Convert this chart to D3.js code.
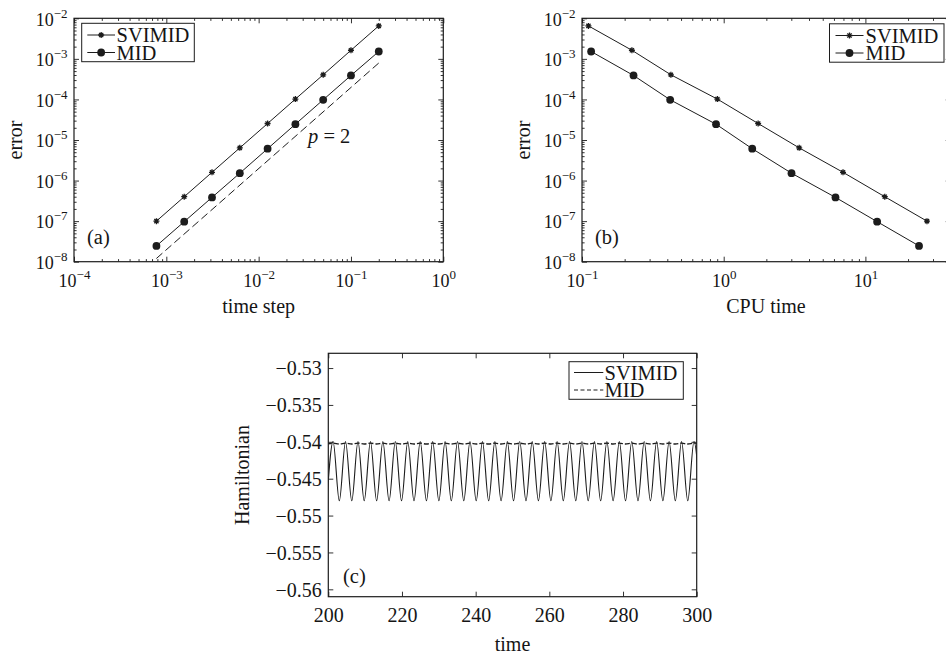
<!DOCTYPE html>
<html>
<head>
<meta charset="utf-8">
<script src="https://cdn.jsdelivr.net/npm/d3@7"></script>
<style>
  body { margin: 0; background: #fff; }
  svg { display: block; }
  text { font-family: "Liberation Serif", "Times New Roman", serif; fill: #151515; }
</style>
</head>
<body>
<svg id="fig" width="946" height="656"></svg>
<script>
// ---- convergence data: step sizes, errors and CPU times ----
const stepSize  = [0.2, 0.1, 0.05, 0.025, 0.0125, 0.00625, 0.003125, 0.0015625, 0.00078125];
const errSVIMID = [6.5e-3, 1.63e-3, 4.05e-4, 1.02e-4, 2.55e-5, 6.4e-6, 1.6e-6, 4.0e-7, 1.0e-7];
const errMID    = [1.52e-3, 3.9e-4, 9.8e-5, 2.45e-5, 6.1e-6, 1.52e-6, 3.85e-7, 9.7e-8, 2.45e-8];
const cpuSVIMID = [0.111, 0.225, 0.424, 0.902, 1.75, 3.41, 6.95, 13.7, 27.2];
const cpuMID    = [0.116, 0.231, 0.419, 0.883, 1.59, 3.01, 6.15, 12.1, 23.9];
// order-2 reference line
const refStep = [7.8e-4, 0.2];
const refErr  = [1.2e-8, 7.9e-4];

// ---- Hamiltonian over time: extrema of the oscillation ----
const hamPeakT = [201.30, 204.68, 208.06, 211.44, 214.81, 218.19, 221.57, 224.95, 228.33, 231.70,
                  235.08, 238.46, 241.84, 245.22, 248.59, 251.97, 255.35, 258.73, 262.11, 265.48,
                  268.86, 272.24, 275.62, 279.00, 282.37, 285.75, 289.13, 292.51, 295.89, 299.26];
const hamTroughT = [199.61, 202.99, 206.37, 209.75, 213.12, 216.50, 219.88, 223.26, 226.64, 230.01,
                    233.39, 236.77, 240.15, 243.53, 246.90, 250.28, 253.66, 257.04, 260.42, 263.79,
                    267.17, 270.55, 273.93, 277.31, 280.68, 284.06, 287.44, 290.82, 294.20, 297.57, 300.95];
const svimidPeakH = -0.53995, svimidTroughH = -0.5480;
const midPeakH = -0.54018, midTroughH = -0.54030;

// ---- tick values ----
const expA_x = [-4, -3, -2, -1, 0];
const expErr = [-8, -7, -6, -5, -4, -3, -2];
const expB_x = [-1, 0, 1];
const timeTicks = [200, 220, 240, 260, 280, 300];
const hamTicks = [-0.53, -0.535, -0.54, -0.545, -0.55, -0.555, -0.56];

const ink = "#1c1c1c";
const svg = d3.select("#fig");
svg.append("rect").attr("width", 946).attr("height", 656).attr("fill", "#fff");

const pow10 = e => Math.pow(10, e);
const isDecade = v => Math.abs(Math.log10(v) - Math.round(Math.log10(v))) < 1e-9;

function styleAxis(g) {
  g.attr("font-family", null).attr("font-size", null).style("color", ink);
  g.select(".domain").remove();
  g.selectAll(".tick line").attr("stroke-width", 0.9);
}

function logText(sel) {
  sel.each(function (d) {
    const e = Math.round(Math.log10(d));
    const t = d3.select(this);
    t.text(null);
    t.append("tspan").text("10");
    t.append("tspan").attr("dy", -8).attr("font-size", 13).text(e < 0 ? "\u2212" + (-e) : String(e));
  });
}

// Frame with inward ticks on all four sides.
function frame(g, x, y, o) {
  const [xl, xr] = x.range();
  const [yb, yt] = y.range();
  const major = 5, minor = 2.6;
  const sides = [
    [d3.axisBottom, `translate(0,${yb})`, x, o.xMajor, o.xMinor],
    [d3.axisTop, `translate(0,${yt})`, x, o.xMajor, o.xMinor],
    [d3.axisLeft, `translate(${xl},0)`, y, o.yMajor, o.yMinor],
    [d3.axisRight, `translate(${xr},0)`, y, o.yMajor, o.yMinor]
  ];
  const out = [];
  sides.forEach(([ax, tr, sc, maj, mnr], i) => {
    if (mnr && mnr.length) {
      g.append("g").attr("transform", tr)
        .call(ax(sc).tickValues(mnr).tickSizeInner(-minor).tickSizeOuter(0).tickFormat(() => ""))
        .call(styleAxis);
    }
    const a = g.append("g").attr("transform", tr)
      .call(ax(sc).tickValues(maj).tickSizeInner(-major).tickSizeOuter(0)
        .tickFormat(i < 1 || i === 2 ? o.fmt : () => ""))
      .call(styleAxis);
    out.push(a);
  });
  g.append("rect").attr("x", xl).attr("y", yt).attr("width", xr - xl).attr("height", yb - yt)
    .attr("fill", "none").attr("stroke", ink).attr("stroke-width", 1.2);
  // bottom labels (offset below the axis line)
  const bt = out[0].selectAll(".tick text").attr("y", o.xLabelDy).attr("dy", null)
    .attr("font-size", o.fontSize).attr("text-anchor", "middle");
  const lt = out[2].selectAll(".tick text").attr("x", -6.5).attr("y", 6.7).attr("dy", null)
    .attr("font-size", o.fontSize).attr("text-anchor", "end");
  if (o.log) { bt.call(logText); lt.call(logText); }
}

const starPath = "M-3,0H3M0,-3V3M-2.1,-2.1L2.1,2.1M-2.1,2.1L2.1,-2.1";
function star(g, cx, cy) {
  g.append("path").attr("d", starPath).attr("transform", `translate(${cx},${cy})`)
    .attr("stroke", ink).attr("stroke-width", 1.3).attr("fill", "none");
  g.append("circle").attr("cx", cx).attr("cy", cy).attr("r", 1.5).attr("fill", ink);
}
function dot(g, cx, cy) {
  g.append("circle").attr("cx", cx).attr("cy", cy).attr("r", 3.9).attr("fill", ink);
}

function legend(g, bx, by, bw, bh, lx0, lx1, tx, rows) {
  g.append("rect").attr("x", bx).attr("y", by).attr("width", bw).attr("height", bh)
    .attr("fill", "#fff").attr("stroke", ink).attr("stroke-width", 1);
  rows.forEach(r => {
    g.append("line").attr("x1", lx0).attr("x2", lx1).attr("y1", r.cy).attr("y2", r.cy)
      .attr("stroke", ink).attr("stroke-width", 1).attr("stroke-dasharray", r.dash || null);
    if (r.marker) r.marker(g, (lx0 + lx1) / 2, r.cy);
    g.append("text").attr("x", tx).attr("y", r.base).attr("font-size", 20.5).text(r.label);
  });
}

function seriesLine(g, x, y, xs, ys) {
  const pts = xs.map((v, i) => [x(v), y(ys[i])]);
  g.append("path").attr("d", d3.line()(pts)).attr("fill", "none").attr("stroke", ink).attr("stroke-width", 1);
  return pts;
}

// ================= panel (a): error vs time step =================
{
  const x = d3.scaleLog().domain([1e-4, 1]).range([74, 443.3]);
  const y = d3.scaleLog().domain([1e-8, 1e-2]).range([261.7, 18.3]);
  const g = svg.append("g");
  frame(g, x, y, {
    xMajor: expA_x.map(pow10), xMinor: x.ticks().filter(v => !isDecade(v)),
    yMajor: expErr.map(pow10), yMinor: y.ticks().filter(v => !isDecade(v)),
    fmt: d => d, log: true, fontSize: 18, xLabelDy: 25.5
  });
  // reference slope p = 2
  g.append("path").attr("d", d3.line()(refStep.map((v, i) => [x(v), y(refErr[i])])))
    .attr("stroke", ink).attr("stroke-width", 1).attr("stroke-dasharray", "8,4").attr("fill", "none");
  seriesLine(g, x, y, stepSize, errSVIMID).forEach(p => star(g, p[0], p[1]));
  seriesLine(g, x, y, stepSize, errMID).forEach(p => dot(g, p[0], p[1]));

  const pl = g.append("text").attr("x", 308).attr("y", 143).attr("font-size", 20.5);
  pl.append("tspan").attr("font-style", "italic").text("p");
  pl.append("tspan").text(" = 2");
  g.append("text").attr("x", 87).attr("y", 244).attr("font-size", 20.5).text("(a)");

  legend(g, 81.7, 23.3, 112.6, 38.4, 87.3, 115, 116.5, [
    { label: "SVIMID", cy: 35, base: 42, marker: star },
    { label: "MID", cy: 52.5, base: 59.5, marker: dot }
  ]);
  g.append("text").attr("x", (74 + 443.3) / 2).attr("y", 313).attr("font-size", 20)
    .attr("text-anchor", "middle").text("time step");
  g.append("text").attr("transform", `translate(21.5,${(18.3 + 261.7) / 2}) rotate(-90)`)
    .attr("font-size", 20).attr("text-anchor", "middle").text("error");
}

// ================= panel (b): error vs CPU time =================
{
  const x = d3.scaleLog().domain([0.1, 40]).range([582, 582 + Math.log10(400) * 141.7]);
  const y = d3.scaleLog().domain([1e-8, 1e-2]).range([261.7, 18.3]);
  const g = svg.append("g");
  frame(g, x, y, {
    xMajor: expB_x.map(pow10), xMinor: x.ticks().filter(v => !isDecade(v)),
    yMajor: expErr.map(pow10), yMinor: y.ticks().filter(v => !isDecade(v)),
    fmt: d => d, log: true, fontSize: 18, xLabelDy: 25.5
  });
  seriesLine(g, x, y, cpuSVIMID, errSVIMID).forEach(p => star(g, p[0], p[1]));
  seriesLine(g, x, y, cpuMID, errMID).forEach(p => dot(g, p[0], p[1]));
  g.append("text").attr("x", 595).attr("y", 244).attr("font-size", 20.5).text("(b)");

  legend(g, 829.5, 23.8, 114.5, 38.4, 835.5, 863.5, 865.5, [
    { label: "SVIMID", cy: 35.5, base: 42.5, marker: star },
    { label: "MID", cy: 53, base: 60, marker: dot }
  ]);
  g.append("text").attr("x", 766).attr("y", 313).attr("font-size", 20)
    .attr("text-anchor", "middle").text("CPU time");
  g.append("text").attr("transform", `translate(530,${(18.3 + 261.7) / 2}) rotate(-90)`)
    .attr("font-size", 20).attr("text-anchor", "middle").text("error");
}

// ================= panel (c): Hamiltonian vs time =================
{
  const x = d3.scaleLinear().domain([200, 300]).range([328.3, 696.7]);
  const y = d3.scaleLinear().domain([-0.561, -0.528]).range([596.7, 353.3]);
  const g = svg.append("g");
  svg.append("clipPath").attr("id", "clipC").append("rect")
    .attr("x", 328.3).attr("y", 353.3).attr("width", 696.7 - 328.3).attr("height", 596.7 - 353.3);

  const ext = (peakH, troughH) =>
    hamPeakT.map(t => [t, peakH]).concat(hamTroughT.map(t => [t, troughH]))
      .sort((a, b) => a[0] - b[0]);
  const line = d3.line().x(d => x(d[0])).y(d => y(d[1])).curve(d3.curveMonotoneX);
  const lg = g.append("g").attr("clip-path", "url(#clipC)");
  lg.append("path").attr("d", line(ext(svimidPeakH, svimidTroughH)))
    .attr("fill", "none").attr("stroke", ink).attr("stroke-width", 1.1);
  lg.append("path").attr("d", line(ext(midPeakH, midTroughH)))
    .attr("fill", "none").attr("stroke", ink).attr("stroke-width", 1.4).attr("stroke-dasharray", "5,2");

  frame(g, x, y, {
    xMajor: timeTicks, xMinor: [], yMajor: hamTicks, yMinor: [],
    fmt: d3.format(".3~f"), log: false, fontSize: 20, xLabelDy: 25
  });
  g.append("text").attr("x", 343).attr("y", 583).attr("font-size", 20.5).text("(c)");

  legend(g, 569, 361.7, 114.3, 37.6, 574, 603.3, 604.5, [
    { label: "SVIMID", cy: 372.5, base: 380 },
    { label: "MID", cy: 390, base: 397, dash: "4,2.5" }
  ]);
  g.append("text").attr("x", 512.5).attr("y", 651).attr("font-size", 20)
    .attr("text-anchor", "middle").text("time");
  g.append("text").attr("transform", `translate(249,475) rotate(-90)`)
    .attr("font-size", 20).attr("text-anchor", "middle").text("Hamiltonian");
}
</script>
</body>
</html>
